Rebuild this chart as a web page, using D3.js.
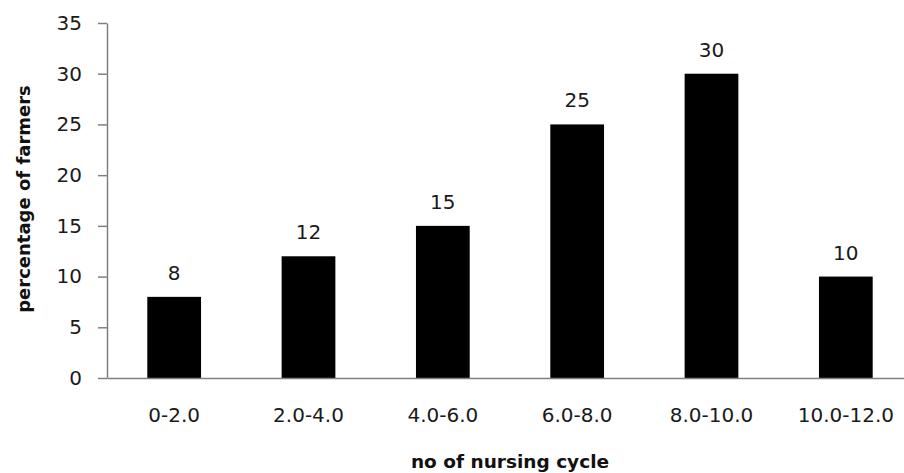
<!DOCTYPE html>
<html><head><meta charset="utf-8">
<script src="https://cdn.jsdelivr.net/npm/d3@7"></script>
<style>body{margin:0;background:#fff}svg{display:block}</style>
</head><body>
<svg id="c" width="904" height="473"></svg>
<script>
const categories = ["0-2.0","2.0-4.0","4.0-6.0","6.0-8.0","8.0-10.0","10.0-12.0"];
const values = [8, 12, 15, 25, 30, 10];
const yTicks = [0, 5, 10, 15, 20, 25, 30, 35];
const xTitle = "no of nursing cycle";
const yTitle = "percentage of farmers";

const svg = d3.select("#c");
const font = "DejaVu Sans";
const x0 = 107, x1 = 913, yBase = 378, yTop = 23;

const x = d3.scaleBand().domain(categories).range([x0, x1]).paddingInner(0.6).paddingOuter(0.3);
const y = d3.scaleLinear().domain([0, 35]).range([yBase, yTop]);

// bars
svg.append("g").selectAll("rect").data(values).join("rect")
  .attr("x", (d,i) => x(categories[i]))
  .attr("y", d => y(d))
  .attr("width", x.bandwidth())
  .attr("height", d => y(0) - y(d))
  .attr("fill", "#000");

// value labels
svg.append("g").selectAll("text").data(values).join("text")
  .attr("x", (d,i) => x(categories[i]) + x.bandwidth()/2)
  .attr("y", d => y(d) - 17)
  .attr("text-anchor", "middle")
  .attr("font-family", font).attr("font-size", 20).attr("fill", "#1a1a1a")
  .text(d => d);

// y axis
const yAxis = svg.append("g").attr("transform", `translate(${x0},0)`)
  .call(d3.axisLeft(y).tickValues(yTicks).tickSize(9).tickPadding(16).tickSizeOuter(0));
yAxis.select(".domain").attr("stroke", "#808080").attr("stroke-width", 1.5);
yAxis.selectAll(".tick line").attr("stroke", "#808080").attr("stroke-width", 1.5);
yAxis.selectAll(".tick text").attr("font-family", font).attr("font-size", 20).attr("fill", "#1a1a1a");

// x axis
const xAxis = svg.append("g").attr("transform", `translate(0,${yBase})`)
  .call(d3.axisBottom(x).tickSize(0).tickPadding(30).tickSizeOuter(0));
xAxis.select(".domain").attr("stroke", "#808080").attr("stroke-width", 1.5);
xAxis.selectAll(".tick text").attr("font-family", font).attr("font-size", 20).attr("fill", "#1a1a1a");

// titles
svg.append("text").attr("x", 510).attr("y", 468).attr("text-anchor", "middle")
  .attr("font-family", font).attr("font-weight", "bold").attr("font-size", 18.5).attr("fill", "#111")
  .text(xTitle);
svg.append("text").attr("transform", "translate(30,199) rotate(-90)").attr("text-anchor", "middle")
  .attr("font-family", font).attr("font-weight", "bold").attr("font-size", 18).attr("fill", "#111")
  .text(yTitle);
</script>
</body></html>
